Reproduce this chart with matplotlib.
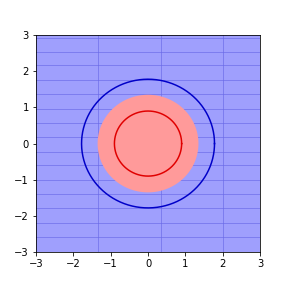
import matplotlib
matplotlib.use('Agg')
import matplotlib.pyplot as plt
import numpy as np

# Region radii
inner_fill_radius = 1.35
red_ring_radius = 0.9
blue_ring_radius = 1.78

# Faint stripe lines visible across the background
stripe_y = [2.93, 2.54, 2.16, 1.76, 1.37, 0.97, 0.58, 0.19, -0.22, -0.60,
            -1.01, -1.39, -1.79, -2.20, -2.59]
stripe_x = [-1.34, 0.36, 2.01]

ticks = [-3, -2, -1, 0, 1, 2, 3]

fig = plt.figure(figsize=(4, 4), dpi=72)
ax = fig.add_axes([0.125, 0.125, 0.778, 0.753])
ax.set_xlim(-3, 3)
ax.set_ylim(-3, 3)
ax.set_facecolor('#9f9ffd')

theta = np.linspace(0, 2 * np.pi, 400)

for y in stripe_y:
    ax.axhline(y, color='#6a6ae8', lw=0.8, alpha=0.8, zorder=1)
for x in stripe_x:
    ax.axvline(x, color='#6a6ae8', lw=0.8, alpha=0.8, zorder=1)

ax.fill(inner_fill_radius * np.cos(theta), inner_fill_radius * np.sin(theta),
        color='#ff9a9a', lw=0, zorder=2)
ax.plot(red_ring_radius * np.cos(theta), red_ring_radius * np.sin(theta),
        color='#e00000', lw=1.5, zorder=3)
ax.plot(blue_ring_radius * np.cos(theta), blue_ring_radius * np.sin(theta),
        color='#0000c8', lw=1.5, zorder=3)

ax.set_xticks(ticks)
ax.set_yticks(ticks)
ax.tick_params(labelsize=10)

fig.savefig('out.png', dpi=72)
